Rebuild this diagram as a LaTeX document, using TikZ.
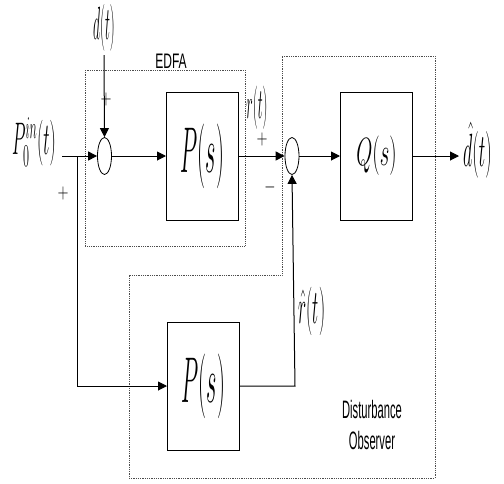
\documentclass[tikz,border=0pt]{standalone}
\usepackage{fontspec}
\usepackage{graphicx}
\usetikzlibrary{arrows.meta,shapes.geometric}
\newfontfamily\lblfont{Liberation Sans}
\begin{document}
\begin{tikzpicture}[x=1pt,y=-1pt,
  blk/.style={draw,line width=1pt,minimum width=72pt,minimum height=128pt,inner sep=0pt},
  sumj/.style={draw,ellipse,line width=0.8pt,minimum width=14pt,minimum height=37pt,inner sep=0pt},
  con/.style={line width=1pt},
  arr/.style={line width=1pt,-{Triangle[length=9pt,width=9pt]}},
  bound/.style={densely dotted,gray!60!black,line width=0.8pt},
  txt/.style={inner sep=0pt}]
\useasboundingbox (0,0) rectangle (504,483);
% dotted regions
\draw[bound] (85,70) rectangle (245,246);
\draw[bound] (282,56) -- (435,56) -- (435,478) -- (129,478) -- (129,275) -- (282,275) -- cycle;
% blocks
\node[blk] (P1) at (202.5,156) {\scalebox{0.9}[2.6]{\fontsize{28}{30}\selectfont$P(s)$}};
\node[blk] (Q) at (376.5,156) {\scalebox{1.0}[1.9]{\fontsize{21}{22}\selectfont$Q(s)$}};
\node[blk] (P2) at (203.5,386) {\scalebox{0.9}[2.6]{\fontsize{28}{30}\selectfont$P(s)$}};
% junctions
\node[sumj] (S1) at (104.5,156) {};
\node[sumj] (S2) at (292,156) {};
% labels
\node[txt] (dl) at (104,28) {\scalebox{0.8}[2.7]{\fontsize{19}{20}\selectfont$d(t)$}};
\coordinate (dtop) at (104,55);
\node[txt] (edfa) at (171,61) {\scalebox{0.86}[1.5]{\lblfont\fontsize{14}{16}\selectfont EDFA}};
\node[txt] (pin) at (34,142) {\scalebox{0.85}[2.2]{\fontsize{20}{22}\selectfont$P_0^{in}(t)$}};
\coordinate (in) at (62,156);
\coordinate (br) at (77,156);
\coordinate (bl) at (77,386);
\node[txt] (p1) at (63,193) {\scalebox{1}[1.4]{\fontsize{14}{16}\selectfont$+$}};
\node[txt] (p2) at (106,99) {\scalebox{1}[1.4]{\fontsize{14}{16}\selectfont$+$}};
\node[txt] (rl) at (257,108) {\scalebox{0.8}[2.5]{\fontsize{18}{20}\selectfont$r(t)$}};
\node[txt] (p3) at (262,139) {\scalebox{1}[1.4]{\fontsize{14}{16}\selectfont$+$}};
\node[txt] (m1) at (270,187) {\scalebox{1}[1.4]{\fontsize{14}{16}\selectfont$-$}};
\coordinate (out) at (459,156);
\node[txt,anchor=west] (dh) at (463,150) {\scalebox{1.05}[2.7]{\fontsize{18}{20}\selectfont$\hat{d}(t)$}};
\node[txt] (rh) at (312,311) {\scalebox{1.0}[2.8]{\fontsize{18}{20}\selectfont$\hat{r}(t)$}};
\coordinate (rc) at (295,386);
\node[txt] (do1) at (372,409) {\scalebox{0.8}[1.8]{\lblfont\fontsize{14}{16}\selectfont Disturbance}};
\node[txt] (do2) at (372,440) {\scalebox{0.8}[1.8]{\lblfont\fontsize{14}{16}\selectfont Observer}};
% connectors
\draw[arr] (in) -- (S1.west);
\draw[arr] (dtop) -- (S1.north);
\draw[arr] (S1.east) -- (P1.west);
\draw[arr] (P1.east) -- (S2.west);
\draw[arr] (S2.east) -- (Q.west);
\draw[arr] (Q.east) -- (out);
\draw[arr] (br) -- (bl) -- (P2.west);
\draw[arr] (P2.east) -- (rc) -- (S2.south);
\end{tikzpicture}
\end{document}
